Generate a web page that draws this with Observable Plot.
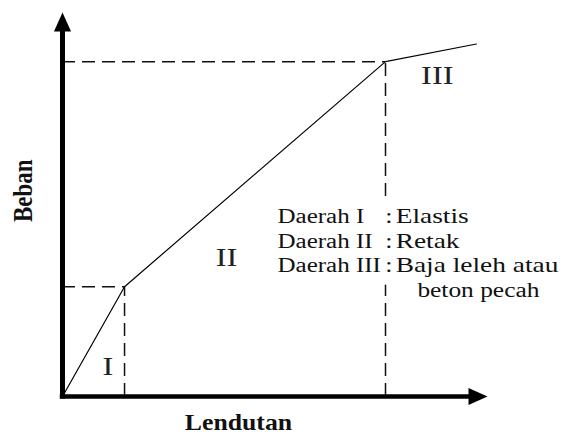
<!DOCTYPE html>
<html>
<head>
<meta charset="utf-8">
<script src="https://cdn.jsdelivr.net/npm/d3@7"></script>
<script src="https://cdn.jsdelivr.net/npm/@observablehq/plot@0.6"></script>
<style>
  html, body { margin: 0; padding: 0; background: #fff; }
</style>
</head>
<body>
<div id="chart"></div>
<script>
// Load–deflection (beban–lendutan) behaviour of a reinforced concrete beam
const deflection = [0, 14.6, 76, 97.4];
const load = [0, 28.6, 87.2, 91.8];
const regions = ["I", "II", "III"];
const zoneNames = ["Daerah I", "Daerah II", "Daerah III"];
const zoneDescriptions = ["Elastis", "Retak", "Baja leleh atau"];
const zoneDescriptionsCont = ["beton pecah"];
const xLabel = "Lendutan";
const yLabel = "Beban";

const curve = deflection.map((x, i) => ({x, y: load[i]}));
const kinks = curve.slice(1, 3);
const axisEnds = [{x: 0, y: 100, rotate: 0}, {x: 100, y: 0, rotate: 90}];

// filled arrowhead, tip at the anchor point, pointing up
const arrowHead = {
  draw(ctx, size) {
    const r = Math.sqrt(size / Math.PI);
    ctx.moveTo(0, 0);
    ctx.lineTo(-0.45 * r, r);
    ctx.lineTo(0.45 * r, r);
    ctx.closePath();
  }
};

const serif = "Liberation Serif, Times New Roman, serif";
const dash = {stroke: "#111", strokeWidth: 1.5, strokeDasharray: "13,7"};
const legendY = (d, i) => 45.3 - 6.5 * i;

// horizontal widening of each text mark, in the order they are listed below
const textWidening = [1.3, 1.25, 1.3, 1.37, 1.27, 1.12, 1.2];

const chart = Plot.plot({
  width: 566,
  height: 435,
  marginLeft: 62,
  marginRight: 79,
  marginTop: 12,
  marginBottom: 39,
  x: {domain: [0, 100], axis: null},
  y: {domain: [0, 100], axis: null},
  style: {background: "#fff", fontFamily: serif},
  marks: [
    // guide lines from the break points to both axes
    Plot.ruleY(kinks, {x1: 0, x2: "x", y: "y", ...dash}),
    Plot.ruleX(kinks, {x: "x", y1: 0, y2: "y", ...dash}),
    // load–deflection curve
    Plot.line(curve, {x: "x", y: "y", stroke: "#000", strokeWidth: 1.2}),
    // axes with arrowheads
    Plot.ruleX([0], {y1: 0, y2: 95, stroke: "#000", strokeWidth: 5, strokeLinecap: "square"}),
    Plot.ruleY([0], {x1: 0, x2: 96, stroke: "#000", strokeWidth: 4.5, strokeLinecap: "square"}),
    Plot.dot(axisEnds, {x: "x", y: "y", rotate: "rotate", symbol: arrowHead, r: 19, fill: "#000", stroke: null}),
    // region numbers
    Plot.text(regions, {
      x: [10.7, 38.6, 88.2], y: [5.5, 34.1, 81.3], text: d => d,
      lineAnchor: "bottom", fontSize: 25, fill: "#222"
    }),
    // legend: a white strip behind the separators interrupts the guide line
    Plot.rect([zoneNames], {x1: 75.4, x2: 78.2, y1: 29, y2: 51, fill: "#fff"}),
    Plot.text(zoneNames, {
      x: () => 50.6, y: legendY, text: d => d,
      textAnchor: "start", lineAnchor: "bottom", fontSize: 20, fill: "#111"
    }),
    Plot.text(zoneNames, {
      x: () => 76.8, y: legendY, text: () => ":",
      textAnchor: "middle", lineAnchor: "bottom", fontSize: 20, fill: "#111"
    }),
    Plot.text(zoneDescriptions, {
      x: () => 78.4, y: legendY, text: d => d,
      textAnchor: "start", lineAnchor: "bottom", fontSize: 20, fill: "#111"
    }),
    Plot.text(zoneDescriptionsCont, {
      x: () => 83.5, y: () => legendY(null, 3), text: d => d,
      textAnchor: "start", lineAnchor: "bottom", fontSize: 20, fill: "#111"
    }),
    // axis titles
    Plot.text([xLabel], {
      x: () => 41.4, y: () => -8.6, text: d => d,
      lineAnchor: "bottom", fontSize: 23, fontWeight: "bold", fill: "#111"
    }),
    Plot.text([yLabel], {
      x: () => -9.2, y: () => 53.6, text: d => d, rotate: -90,
      lineAnchor: "middle", fontSize: 23, fontWeight: "bold", fill: "#111"
    })
  ]
});

// the lettering of this diagram is set wide: stretch glyphs horizontally
d3.select(chart).selectAll('g[aria-label="text"]').each(function(_, k) {
  const sx = textWidening[k] || 1;
  d3.select(this).selectAll("text").each(function() {
    const t = this.getAttribute("transform");
    if (t && t.includes("rotate")) {
      this.setAttribute("transform", t.replace(" rotate", ` scale(${sx},1) rotate`));
    } else if (t) {
      this.setAttribute("transform", `${t} scale(${sx},1)`);
    } else {
      const x = +this.getAttribute("x") || 0;
      const y = +this.getAttribute("y") || 0;
      this.removeAttribute("x");
      this.removeAttribute("y");
      this.setAttribute("transform", `translate(${x},${y}) scale(${sx},1)`);
    }
  });
});

document.getElementById("chart").appendChild(chart);
</script>
</body>
</html>
